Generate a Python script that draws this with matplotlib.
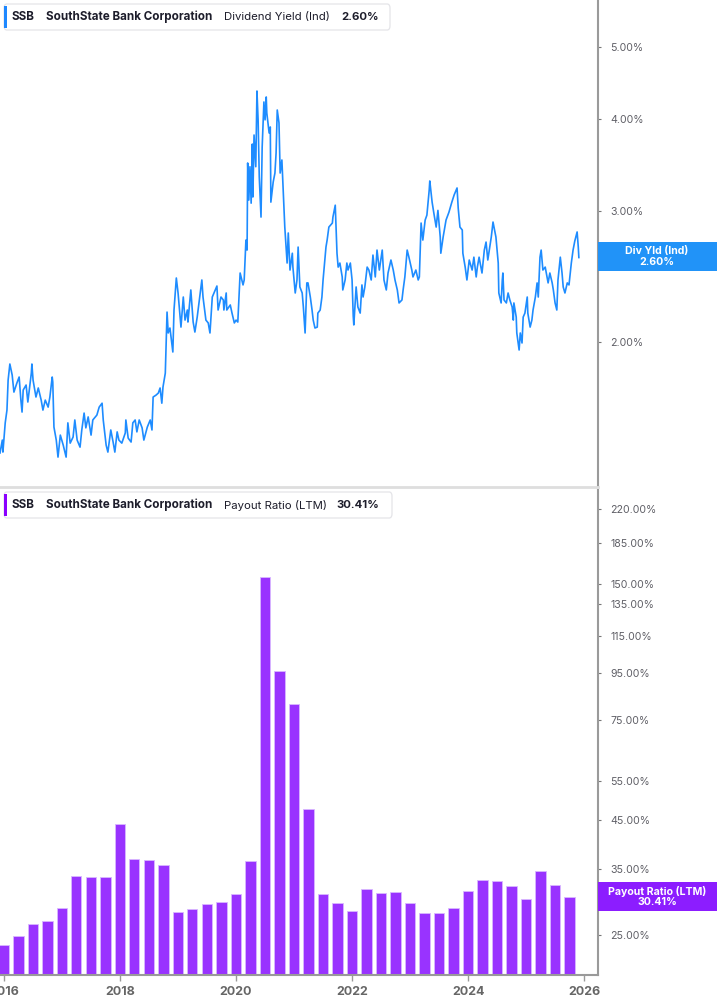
import matplotlib
matplotlib.use("Agg")
import matplotlib.pyplot as plt
import numpy as np
import pandas as pd
from matplotlib.patches import FancyBboxPatch, Rectangle
from matplotlib.ticker import FixedLocator, NullLocator

plt.rcParams["font.family"] = ["Inter", "DejaVu Sans"]

W, H = 717, 1005

# dividend yield (ind), %  -- decimal year / value
dy_years = [
    2015.93, 2015.97, 2015.98, 2016.02, 2016.05, 2016.07, 2016.10, 2016.14, 2016.17, 2016.22,
    2016.26, 2016.29, 2016.31, 2016.33, 2016.38, 2016.41, 2016.47, 2016.48, 2016.50, 2016.55,
    2016.59, 2016.64, 2016.67, 2016.71, 2016.76, 2016.79, 2016.83, 2016.84, 2016.86, 2016.90,
    2016.93, 2016.97, 2017.02, 2017.07, 2017.10, 2017.14, 2017.19, 2017.22, 2017.26, 2017.31,
    2017.34, 2017.38, 2017.41, 2017.45, 2017.50, 2017.53, 2017.60, 2017.64, 2017.69, 2017.71,
    2017.76, 2017.79, 2017.84, 2017.88, 2017.91, 2017.95, 2017.98, 2018.03, 2018.09, 2018.10,
    2018.14, 2018.19, 2018.22, 2018.26, 2018.29, 2018.33, 2018.38, 2018.41, 2018.47, 2018.52,
    2018.55, 2018.57, 2018.62, 2018.66, 2018.69, 2018.72, 2018.74, 2018.78, 2018.81, 2018.83,
    2018.86, 2018.91, 2018.93, 2018.97, 2019.00, 2019.05, 2019.09, 2019.12, 2019.16, 2019.17,
    2019.22, 2019.26, 2019.29, 2019.33, 2019.36, 2019.41, 2019.43, 2019.48, 2019.52, 2019.55,
    2019.59, 2019.62, 2019.67, 2019.69, 2019.74, 2019.78, 2019.79, 2019.83, 2019.84, 2019.90,
    2019.93, 2019.97, 2020.00, 2020.03, 2020.07, 2020.12, 2020.14, 2020.17, 2020.19, 2020.20,
    2020.22, 2020.24, 2020.26, 2020.28, 2020.29, 2020.31, 2020.34, 2020.36, 2020.38, 2020.40,
    2020.43, 2020.45, 2020.48, 2020.50, 2020.52, 2020.53, 2020.57, 2020.59, 2020.60, 2020.64,
    2020.67, 2020.69, 2020.71, 2020.74, 2020.76, 2020.79, 2020.81, 2020.83, 2020.84, 2020.88,
    2020.90, 2020.93, 2020.97, 2020.98, 2021.02, 2021.05, 2021.07, 2021.10, 2021.14, 2021.16,
    2021.19, 2021.22, 2021.24, 2021.28, 2021.31, 2021.33, 2021.36, 2021.40, 2021.41, 2021.45,
    2021.48, 2021.50, 2021.55, 2021.57, 2021.60, 2021.66, 2021.67, 2021.71, 2021.74, 2021.76,
    2021.79, 2021.83, 2021.84, 2021.88, 2021.91, 2021.93, 2021.97, 2022.00, 2022.02, 2022.03,
    2022.07, 2022.10, 2022.14, 2022.17, 2022.19, 2022.22, 2022.26, 2022.29, 2022.33, 2022.36,
    2022.40, 2022.43, 2022.47, 2022.52, 2022.55, 2022.59, 2022.62, 2022.67, 2022.71, 2022.74,
    2022.78, 2022.81, 2022.86, 2022.88, 2022.91, 2022.95, 2022.98, 2023.03, 2023.05, 2023.10,
    2023.14, 2023.16, 2023.19, 2023.22, 2023.26, 2023.29, 2023.33, 2023.34, 2023.38, 2023.41,
    2023.45, 2023.48, 2023.52, 2023.53, 2023.57, 2023.62, 2023.67, 2023.72, 2023.76, 2023.81,
    2023.83, 2023.86, 2023.90, 2023.91, 2023.95, 2023.98, 2024.02, 2024.07, 2024.10, 2024.14,
    2024.16, 2024.19, 2024.24, 2024.28, 2024.31, 2024.34, 2024.40, 2024.43, 2024.48, 2024.52,
    2024.53, 2024.57, 2024.59, 2024.60, 2024.62, 2024.66, 2024.69, 2024.72, 2024.76, 2024.78,
    2024.79, 2024.83, 2024.84, 2024.88, 2024.90, 2024.93, 2024.95, 2024.98, 2025.02, 2025.03,
    2025.07, 2025.10, 2025.12, 2025.16, 2025.19, 2025.21, 2025.24, 2025.26, 2025.29, 2025.33,
    2025.36, 2025.38, 2025.41, 2025.45, 2025.47, 2025.50, 2025.53, 2025.55, 2025.59, 2025.62,
    2025.64, 2025.67, 2025.71, 2025.74, 2025.78, 2025.81, 2025.84, 2025.88, 2025.90, 2025.91,
]
dy_values = [
    1.417, 1.475, 1.421, 1.556, 1.619, 1.777, 1.868, 1.805, 1.712, 1.760,
    1.794, 1.670, 1.609, 1.723, 1.750, 1.660, 1.816, 1.868, 1.777, 1.686,
    1.734, 1.670, 1.619, 1.670, 1.634, 1.686, 1.794, 1.766, 1.536, 1.475,
    1.399, 1.498, 1.452, 1.399, 1.556, 1.461, 1.489, 1.570, 1.475, 1.443,
    1.522, 1.604, 1.532, 1.585, 1.498, 1.570, 1.594, 1.634, 1.654, 1.570,
    1.452, 1.421, 1.522, 1.466, 1.421, 1.513, 1.475, 1.461, 1.508, 1.570,
    1.484, 1.466, 1.556, 1.570, 1.513, 1.570, 1.532, 1.475, 1.536, 1.570,
    1.522, 1.686, 1.696, 1.707, 1.734, 1.654, 1.739, 1.816, 2.195, 2.057,
    2.089, 1.939, 2.209, 2.440, 2.329, 2.095, 2.300, 2.141, 2.209, 2.128,
    2.351, 2.128, 2.063, 2.161, 2.258, 2.425, 2.300, 2.141, 2.122, 2.057,
    2.300, 2.329, 2.380, 2.209, 2.300, 2.279, 2.209, 2.329, 2.209, 2.244,
    2.188, 2.122, 2.141, 2.128, 2.478, 2.388, 2.425, 2.745, 2.661, 3.487,
    3.108, 3.447, 3.078, 3.698, 3.138, 3.804, 3.447, 4.361, 3.987, 3.339,
    2.948, 3.664, 4.215, 3.987, 4.281, 4.073, 3.828, 3.900, 3.088, 3.287,
    3.380, 3.598, 4.111, 3.950, 3.380, 3.520, 3.237, 2.993, 2.858, 2.556,
    2.806, 2.501, 2.635, 2.524, 2.329, 2.425, 2.686, 2.373, 2.329, 2.230,
    2.057, 2.403, 2.403, 2.300, 2.209, 2.141, 2.089, 2.095, 2.188, 2.209,
    2.300, 2.425, 2.686, 2.745, 2.858, 2.894, 2.948, 3.059, 2.635, 2.524,
    2.556, 2.448, 2.351, 2.425, 2.556, 2.501, 2.556, 2.425, 2.168, 2.109,
    2.373, 2.230, 2.188, 2.388, 2.300, 2.373, 2.524, 2.501, 2.425, 2.620,
    2.448, 2.661, 2.501, 2.661, 2.425, 2.351, 2.478, 2.580, 2.501, 2.425,
    2.351, 2.258, 2.279, 2.351, 2.448, 2.661, 2.603, 2.501, 2.448, 2.501,
    2.425, 2.448, 2.894, 2.745, 2.921, 2.966, 3.207, 3.298, 3.088, 2.984,
    2.858, 3.010, 2.771, 2.635, 2.771, 2.921, 2.993, 3.088, 3.158, 3.227,
    3.031, 2.858, 2.832, 2.635, 2.524, 2.425, 2.580, 2.501, 2.603, 2.448,
    2.524, 2.603, 2.478, 2.661, 2.728, 2.580, 2.771, 2.903, 2.771, 2.556,
    2.329, 2.258, 2.425, 2.478, 2.279, 2.258, 2.329, 2.279, 2.230, 2.141,
    2.258, 2.161, 2.057, 1.951, 2.057, 1.994, 2.161, 2.188, 2.300, 2.188,
    2.095, 2.141, 2.209, 2.300, 2.403, 2.300, 2.603, 2.661, 2.501, 2.524,
    2.448, 2.403, 2.478, 2.403, 2.351, 2.258, 2.209, 2.425, 2.603, 2.478,
    2.373, 2.329, 2.403, 2.388, 2.556, 2.661, 2.737, 2.815, 2.686, 2.600,
]

# payout ratio (LTM), % by fiscal quarter
payout_quarters = [
    "2015Q4", "2016Q1", "2016Q2", "2016Q3", "2016Q4", "2017Q1", "2017Q2", "2017Q3",
    "2017Q4", "2018Q1", "2018Q2", "2018Q3", "2018Q4", "2019Q1", "2019Q2", "2019Q3",
    "2019Q4", "2020Q1", "2020Q2", "2020Q3", "2020Q4", "2021Q1", "2021Q2", "2021Q3",
    "2021Q4", "2022Q1", "2022Q2", "2022Q3", "2022Q4", "2023Q1", "2023Q2", "2023Q3",
    "2023Q4", "2024Q1", "2024Q2", "2024Q3", "2024Q4", "2025Q1", "2025Q2", "2025Q3",
]
payout_values = [
    23.8, 24.9, 26.4, 26.8, 28.7, 33.8, 33.7, 33.6,
    44.0, 36.9, 36.6, 35.7, 28.2, 28.6, 29.3, 29.6,
    30.8, 36.4, 155.2, 96.2, 81.3, 47.6, 30.8, 29.5,
    28.3, 31.6, 31.0, 31.1, 29.5, 28.0, 28.0, 28.7,
    31.3, 33.2, 33.0, 32.1, 30.1, 34.6, 32.3, 30.41,
]

dy_ticks = [2, 3, 4, 5]
payout_ticks = [25, 35, 45, 55, 75, 95, 115, 135, 150, 185, 220]
year_ticks = [2016, 2018, 2020, 2022, 2024, 2026]

BLUE = "#1E8CFF"
BLUE_BOX = "#2193F8"
PURPLE = "#9933FF"
PURPLE_BOX = "#8C1DFF"
AXIS_GREY = "#9a9a9a"
TEXT_GREY = "#5f5f66"
DARK = "#1d1d2b"


def fx(px):
    return px / W


def fy(py):
    return 1 - py / H


def style_axis(ax, yticks, ylim):
    ax.set_yscale("log")
    ax.set_xlim(2015.93, 2026.24)
    ax.set_ylim(*ylim)
    ax.yaxis.tick_right()
    ax.yaxis.set_major_locator(FixedLocator(yticks))
    ax.yaxis.set_minor_locator(NullLocator())
    ax.set_yticklabels([f"{t:.2f}%" for t in yticks])
    ax.tick_params(axis="y", length=2, width=0.8, color="#777777", pad=7,
                   labelsize=7.6, labelcolor=TEXT_GREY)
    for side in ("top", "left"):
        ax.spines[side].set_visible(False)
    ax.spines["right"].set_color(AXIS_GREY)
    ax.spines["right"].set_linewidth(1.5)


fig = plt.figure(figsize=(W / 100, H / 100), dpi=100)

# upper panel: dividend yield line
ax1 = fig.add_axes([0, fy(487), fx(598), 1 - fy(487)])
style_axis(ax1, dy_ticks, (1.275, 5.785))
ax1.plot(dy_years, dy_values, color=BLUE, lw=1.2, solid_joinstyle="round")
ax1.set_xticks([])
ax1.spines["bottom"].set_color("#dedede")
ax1.spines["bottom"].set_linewidth(2)

# lower panel: payout ratio bars
ax2 = fig.add_axes([0, fy(975), fx(598), fy(490) - fy(975)])
style_axis(ax2, payout_ticks, (20.4, 242))
q_end = pd.PeriodIndex(payout_quarters, freq="Q").end_time
q_x = q_end.year + (q_end.dayofyear - 0.5) / 365.25
ax2.bar(q_x, payout_values, width=0.18, color=PURPLE, edgecolor="#d9b8ff", linewidth=0.6)
ax2.set_xticks(year_ticks)
ax2.set_xticklabels([str(y) for y in year_ticks])
ax2.xaxis.set_minor_locator(NullLocator())
ax2.tick_params(axis="x", length=4, width=1, color=AXIS_GREY, pad=4,
                labelsize=9, labelcolor="#666666")
for lbl in ax2.get_xticklabels():
    lbl.set_fontweight("bold")
ax2.spines["bottom"].set_color(AXIS_GREY)
ax2.spines["bottom"].set_linewidth(1.5)


def legend_box(top, right, color, metric, value, value_x):
    bottom = top + 26
    fig.patches.append(FancyBboxPatch(
        (fx(4), fy(bottom)), fx(right) - fx(4), fy(top) - fy(bottom),
        boxstyle="round,pad=0,rounding_size=0.004", transform=fig.transFigure,
        facecolor="white", edgecolor="#e4e4e8", linewidth=0.9, zorder=5))
    fig.patches.append(Rectangle(
        (fx(4), fy(bottom - 2)), fx(3), fy(top + 2) - fy(bottom - 2),
        transform=fig.transFigure, facecolor=color, edgecolor="none", zorder=6))
    cy = fy(top + 13)
    fig.text(fx(12), cy, "SSB", fontsize=8.4, fontweight="bold", color=DARK, va="center", zorder=7)
    fig.text(fx(46), cy, "SouthState Bank Corporation", fontsize=8.4, fontweight="bold",
             color=DARK, va="center", zorder=7)
    fig.text(fx(224), cy, metric, fontsize=8.2, color=DARK, va="center", zorder=7)
    fig.text(fx(value_x), cy, value, fontsize=8.2, fontweight="bold", color=DARK,
             va="center", zorder=7)


legend_box(4, 390, "#1E88FF", "Dividend Yield (Ind)", "2.60%", 341)
legend_box(492, 392, "#8A00FF", "Payout Ratio (LTM)", "30.41%", 336)


def value_tag(top, color, name, value):
    fig.patches.append(Rectangle(
        (fx(598), fy(top + 29)), 1 - fx(598), fy(top) - fy(top + 29),
        transform=fig.transFigure, facecolor=color, edgecolor="none", zorder=5))
    fig.text(fx(657), fy(top + 9), name, fontsize=7.6, fontweight="bold", color="white",
             ha="center", va="center", zorder=6)
    fig.text(fx(657), fy(top + 20), value, fontsize=7.6, fontweight="bold", color="white",
             ha="center", va="center", zorder=6)


value_tag(242, BLUE_BOX, "Div Yld (Ind)", "2.60%")
value_tag(882, PURPLE_BOX, "Payout Ratio (LTM)", "30.41%")

fig.savefig("out.png", dpi=100)
